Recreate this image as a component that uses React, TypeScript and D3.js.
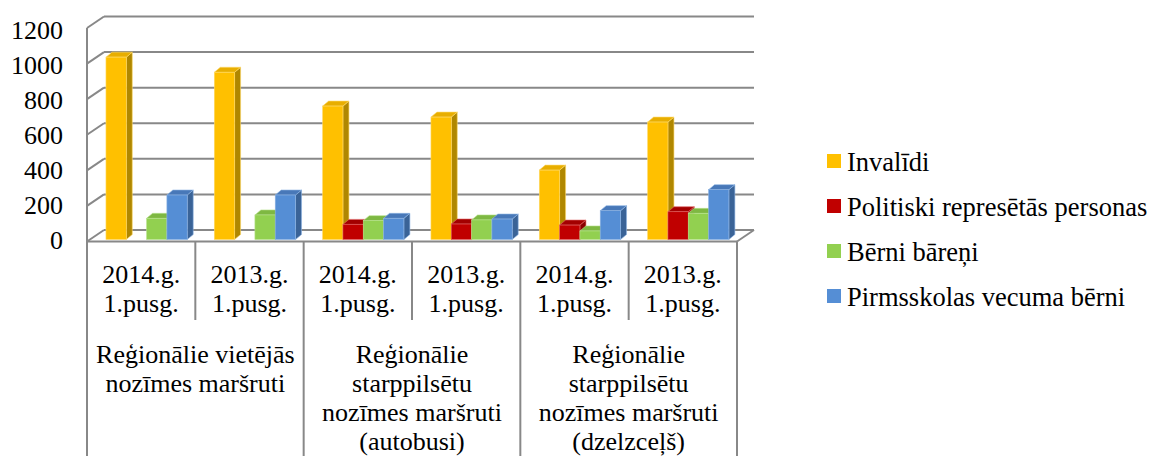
import * as d3 from "d3";

const categories = ["2014.g.", "2013.g.", "2014.g.", "2013.g.", "2014.g.", "2013.g."];
const periodLabel = "1.pusg.";
const groupLabels = [
  ["Reģionālie vietējās", "nozīmes maršruti"],
  ["Reģionālie", "starppilsētu", "nozīmes maršruti", "(autobusi)"],
  ["Reģionālie", "starppilsētu", "nozīmes maršruti", "(dzelzceļš)"],
];

const seriesNames = [
  "Invalīdi",
  "Politiski represētās personas",
  "Bērni bāreņi",
  "Pirmsskolas vecuma bērni",
];
const invalidi = [1025, 940, 750, 688, 390, 660];
const represetie = [0, 0, 85, 87, 81, 156];
const bareni = [119, 138, 106, 110, 48, 147];
const pirmsskolas = [250, 250, 119, 115, 162, 280];
const yTicks = [0, 200, 400, 600, 800, 1000, 1200];

const seriesValues = [invalidi, represetie, bareni, pirmsskolas];

const COLORS = [
  { front: "#FFC000", side: "#B08700", top: "#E8AE00", edge: "#FFD966" },
  { front: "#C00000", side: "#880000", top: "#A30000", edge: "#E06060" },
  { front: "#92D050", side: "#689A38", top: "#7EB842", edge: "#B8E38E" },
  { front: "#558ED5", side: "#3A6397", top: "#4878B8", edge: "#8DB3E2" },
];

const FONT = "Liberation Serif, Times New Roman, DejaVu Serif, serif";
const FONT_SIZE = 26;
const GRID = { color: "#888888", width: 2 };

const PLOT = { left: 87, right: 737, baseY: 241.5, topY: 28 };
const DEPTH = { dx: 17, dy: -11.5 };
const BAR = { baseShift: -2, dx: 6, dy: -5, start: 0.175, end: 0.925 };
const TABLE = { bottom: 456, innerBottom: 320, yearY: 283, periodY: 312, groupY: 363, lineH: 29 };
const LEGEND = { x: 827, textX: 847, box: 14, firstY: 171, rowH: 45, fontSize: 26.5 };
const YLABEL = { x: 63, base0: 249, baseTop: 39 };

const textStyle = { fontFamily: FONT, fontSize: FONT_SIZE, fill: "#000" };

export default function App() {
  const y = d3.scaleLinear().domain([0, 1200]).range([PLOT.baseY, PLOT.topY]);
  // tick labels sit a touch wider apart than the front gridline ends
  const yLabel = d3.scaleLinear().domain([0, 1200]).range([YLABEL.base0, YLABEL.baseTop]);
  const x = d3
    .scaleBand<number>()
    .domain(d3.range(categories.length))
    .range([PLOT.left, PLOT.right]);
  const bw = x.bandwidth();
  const xs = d3
    .scaleBand<number>()
    .domain(d3.range(seriesNames.length))
    .range([bw * BAR.start, bw * BAR.end]);
  const w = xs.bandwidth();

  const barBase = PLOT.baseY + BAR.baseShift;

  return (
    <svg
      width={1150}
      height={456}
      style={{ position: "absolute", left: 0, top: 0, background: "#fff" }}
      xmlns="http://www.w3.org/2000/svg"
    >
      {/* back wall gridlines + side wall diagonals */}
      <g className="grid">
        {yTicks.map((t) => {
          const yf = y(t);
          const yb = yf + DEPTH.dy;
          return (
            <g key={t}>
              <line
                x1={PLOT.left + DEPTH.dx}
                y1={yb}
                x2={PLOT.right + DEPTH.dx}
                y2={yb}
                stroke={GRID.color}
                strokeWidth={GRID.width}
              />
              <line
                x1={PLOT.left}
                y1={yf}
                x2={PLOT.left + DEPTH.dx}
                y2={yb}
                stroke={GRID.color}
                strokeWidth={GRID.width}
              />
            </g>
          );
        })}
        {/* floor */}
        <line
          x1={PLOT.left}
          y1={PLOT.baseY}
          x2={PLOT.right}
          y2={PLOT.baseY}
          stroke={GRID.color}
          strokeWidth={GRID.width}
        />
        <line
          x1={PLOT.right}
          y1={PLOT.baseY}
          x2={PLOT.right + DEPTH.dx}
          y2={PLOT.baseY + DEPTH.dy}
          stroke={GRID.color}
          strokeWidth={GRID.width}
        />
        <line
          x1={PLOT.left}
          y1={y(1200)}
          x2={PLOT.left}
          y2={TABLE.bottom}
          stroke={GRID.color}
          strokeWidth={GRID.width}
        />
      </g>

      {/* y axis labels */}
      <g className="y-axis">
        {yTicks.map((t) => (
          <text key={t} x={YLABEL.x} y={yLabel(t)} textAnchor="end" style={textStyle}>
            {t}
          </text>
        ))}
      </g>

      {/* bars */}
      <g className="bars">
        {categories.map((_, i) =>
          seriesValues.map((vals, j) => {
            const v = vals[i];
            if (!v) return null;
            const c = COLORS[j];
            const bx = x(i)! + xs(j)!;
            const top = y(v) + BAR.baseShift;
            const side = `${bx + w},${top} ${bx + w + BAR.dx},${top + BAR.dy} ${bx + w + BAR.dx},${barBase + BAR.dy} ${bx + w},${barBase}`;
            const cap = `${bx},${top} ${bx + BAR.dx},${top + BAR.dy} ${bx + w + BAR.dx},${top + BAR.dy} ${bx + w},${top}`;
            return (
              <g key={`${i}-${j}`}>
                <polygon points={side} fill={c.side} stroke={c.edge} strokeWidth={0.6} />
                <polygon points={cap} fill={c.top} stroke={c.edge} strokeWidth={0.6} />
                <rect
                  x={bx}
                  y={top}
                  width={w}
                  height={barBase - top}
                  fill={c.front}
                  stroke={c.edge}
                  strokeWidth={0.6}
                />
              </g>
            );
          }),
        )}
      </g>

      {/* category table */}
      <g className="x-axis">
        {d3.range(categories.length + 1).map((k) => {
          const lx = PLOT.left + k * bw;
          const full = k % 2 === 0;
          return (
            <line
              key={k}
              x1={lx}
              y1={PLOT.baseY}
              x2={lx}
              y2={full ? TABLE.bottom : TABLE.innerBottom}
              stroke={GRID.color}
              strokeWidth={GRID.width}
            />
          );
        })}
        {categories.map((c, i) => {
          const cx = x(i)! + bw / 2;
          return (
            <g key={i}>
              <text x={cx} y={TABLE.yearY} textAnchor="middle" style={textStyle}>
                {c}
              </text>
              <text x={cx} y={TABLE.periodY} textAnchor="middle" style={textStyle}>
                {periodLabel}
              </text>
            </g>
          );
        })}
        {groupLabels.map((lines, g) => {
          const cx = PLOT.left + (g * 2 + 1) * bw;
          return (
            <g key={g}>
              {lines.map((ln, k) => (
                <text
                  key={k}
                  x={cx}
                  y={TABLE.groupY + k * TABLE.lineH}
                  textAnchor="middle"
                  style={textStyle}
                >
                  {ln}
                </text>
              ))}
            </g>
          );
        })}
      </g>

      {/* legend */}
      <g className="legend">
        {seriesNames.map((name, j) => {
          const by = LEGEND.firstY + j * LEGEND.rowH;
          return (
            <g key={name}>
              <rect
                x={LEGEND.x}
                y={by - 17}
                width={LEGEND.box}
                height={LEGEND.box}
                fill={COLORS[j].front}
              />
              <text
                x={LEGEND.textX}
                y={by}
                style={{ ...textStyle, fontSize: LEGEND.fontSize }}
              >
                {name}
              </text>
            </g>
          );
        })}
      </g>
    </svg>
  );
}
